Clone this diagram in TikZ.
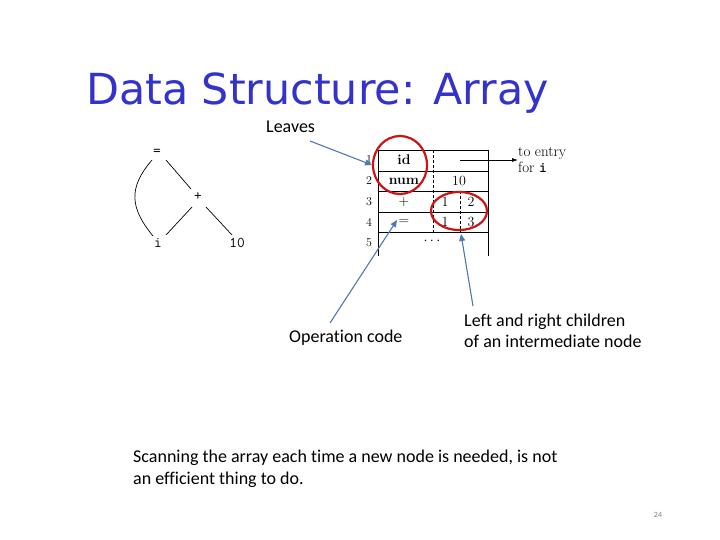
\documentclass[tikz,border=0pt]{standalone}
\usepackage{fontspec}
\setmainfont{Latin Modern Roman}
\newfontfamily\labfont[Ligatures=NoCommon]{Carlito}
\newfontfamily\titfont{DejaVu Sans}
\usetikzlibrary{arrows.meta}
\definecolor{titblue}{RGB}{51,51,204}
\definecolor{arrblue}{RGB}{79,120,180}
\definecolor{ringred}{RGB}{205,20,20}
\tikzset{
  lab/.style={font=\labfont\fontsize{18}{21.5}\selectfont, inner sep=0pt, anchor=west, align=left},
  tree/.style={font=\ttfamily\fontsize{15}{17}\selectfont, inner sep=1pt},
  cell/.style={font=\fontsize{14}{16}\selectfont, inner sep=0pt},
  rownum/.style={font=\fontsize{12}{14}\selectfont, inner sep=0pt},
  callout/.style={draw=arrblue, line width=1.1pt, -{Triangle[length=7pt,width=6pt]}},
  ring/.style={draw=ringred, line width=2.2pt},
  tline/.style={line width=0.7pt},
  tdash/.style={line width=0.6pt, dashed, dash pattern=on 3pt off 2pt}
}
\begin{document}
\begin{tikzpicture}[x=1pt,y=-1pt]
\useasboundingbox (0,0) rectangle (720,540);
% title
\node[font=\titfont\fontsize{42.8}{48}\selectfont, text=titblue, anchor=west, inner sep=0pt] (title) at (86,93) {Data Structure: Array};
% tree
\node[tree] (eq) at (157,152) {=};
\node[tree] (plus) at (198,197) {+};
\node[tree] (i) at (158,243) {i};
\node[tree] (ten) at (237,243) {10};
\draw[tline] (152,160) .. controls (128,188) and (130,208) .. (153,236);
\draw[tline] (166,160) -- (191,189);
\draw[tline] (192,207) -- (166,235);
\draw[tline] (206,207) -- (232,235);
% table
\draw[tline] (378,150) -- (488,150);
\foreach \y in {171,191,212,232} \draw[tline] (378,\y) -- (488,\y);
\draw[tline] (378,150) -- (378,256);
\draw[tline] (488,150) -- (488,256);
\draw[tdash] (433,150) -- (433,232);
\draw[tdash] (460,191) -- (460,232);
\foreach \n/\y in {1/160,2/181,3/202,4/222,5/243} \node[rownum] (r\n) at (369,\y) {\n};
\node[cell] (id) at (404,160) {\textbf{id}};
\node[cell] (num) at (404,181) {\textbf{num}};
\node[cell] (ten2) at (459,181) {10};
\node[cell] (p3) at (404,202) {+};
\node[cell] (a3) at (445,202) {1};
\node[cell] (b3) at (471,202) {2};
\node[cell] (e4) at (404,222) {=};
\node[cell] (a4) at (445,222) {1};
\node[cell] (b4) at (471,222) {3};
\node[cell] (dots) at (432,241) {$\cdots$};
\coordinate (ptr) at (460,160);
\node[cell, anchor=west, align=left, font=\fontsize{15}{16}\selectfont] (entry) at (518,160) {to entry\\for {\ttfamily\bfseries i}};
\draw[line width=0.7pt, -{Latex[length=6pt,width=4pt]}] (ptr) -- (entry.west);
% rings
\draw[ring] (400,165) ellipse [x radius=27, y radius=29];
\draw[ring] (459,211) ellipse [x radius=28, y radius=19];
% labels
\node[lab] (leaves) at (266,127) {Leaves};
\node[lab] (opcode) at (289,338) {Operation code};
\node[lab] (children) at (464,331) {Left and right children\\of an intermediate node};
\node[lab] (scan) at (133,469) {Scanning the array each time a new node is needed, is not\\an efficient thing to do.};
\node[font=\labfont\fontsize{8}{9}\selectfont, text=gray] (pg) at (658,515) {24};
% callouts
\coordinate (lt) at (372,165);
\coordinate (ot) at (397,220);
\coordinate (ct) at (461,234);
\draw[callout] (310,141) -- (lt);
\draw[callout] (330,323) -- (ot);
\draw[callout] (473,306) -- (ct);
\end{tikzpicture}
\end{document}
